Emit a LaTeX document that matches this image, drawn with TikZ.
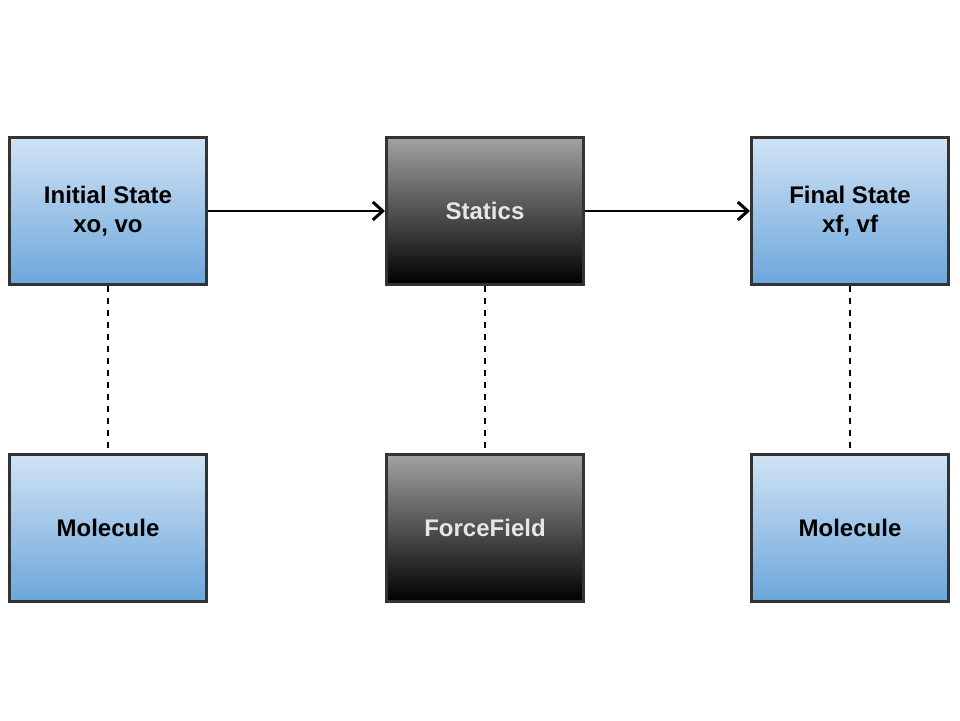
\documentclass[tikz,border=0pt]{standalone}
\usepackage{fontspec}
\setmainfont{Liberation Sans}
\usetikzlibrary{arrows.meta}
\definecolor{bluetop}{HTML}{D0E3F5}
\definecolor{bluebot}{HTML}{6CA6DB}
\definecolor{graytop}{HTML}{A2A2A2}
\definecolor{graybot}{HTML}{000000}
\definecolor{boxline}{HTML}{333333}
\definecolor{lighttext}{HTML}{E6E6E6}
\tikzset{
  bluebox/.style={draw=boxline, line width=3pt, minimum width=197pt, minimum height=147pt,
    top color=bluetop, bottom color=bluebot, font=\bfseries\fontsize{24}{29}\selectfont,
    align=center, text=black, inner sep=0pt},
  graybox/.style={draw=boxline, line width=3pt, minimum width=197pt, minimum height=147pt,
    top color=graytop, bottom color=graybot, font=\bfseries\fontsize{24}{29}\selectfont,
    align=center, text=lighttext, inner sep=0pt},
  flow/.style={line width=2pt, -{Straight Barb[length=10pt,width=18pt,line width=3pt]}},
  link/.style={line width=1.5pt, dash pattern=on 6pt off 6pt}
}
\begin{document}
\begin{tikzpicture}[x=1pt,y=-1pt]
\useasboundingbox (0,0) rectangle (960,720);
\node[bluebox] (init) at (108,211) {Initial State\\xo, vo};
\node[graybox] (stat) at (485,211) {Statics};
\node[bluebox] (fin) at (850,211) {Final State\\xf, vf};
\node[bluebox] (mol1) at (108,528) {Molecule};
\node[graybox] (ff) at (485,528) {ForceField};
\node[bluebox] (mol2) at (850,528) {Molecule};
\draw[flow] (init) -- (stat);
\draw[flow] (stat) -- (fin);
\draw[link] (init) -- (mol1);
\draw[link] (stat) -- (ff);
\draw[link] (fin) -- (mol2);
\end{tikzpicture}
\end{document}
